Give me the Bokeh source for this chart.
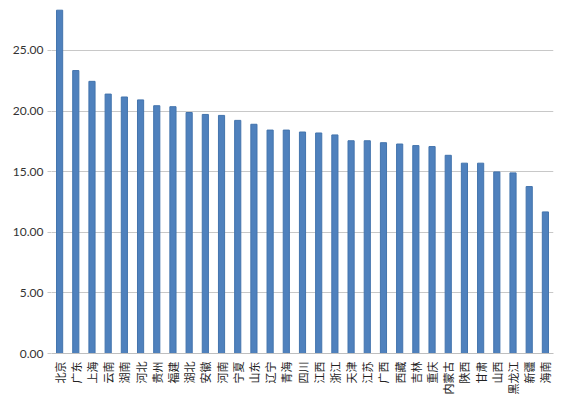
from bokeh.plotting import figure
from bokeh.models import Range1d, FixedTicker, NumeralTickFormatter, FactorRange
from bokeh.embed import file_html
from bokeh.resources import INLINE

provinces = ["北京", "广东", "上海", "云南", "湖南", "河北", "贵州", "福建", "湖北", "安徽",
             "河南", "宁夏", "山东", "辽宁", "青海", "四川", "江西", "浙江", "天津", "江苏",
             "广西", "西藏", "吉林", "重庆", "内蒙古", "陕西", "甘肃", "山西", "黑龙江", "新疆", "海南"]
values = [28.32, 23.34, 22.45, 21.40, 21.16, 20.92, 20.44, 20.36, 19.88, 19.72,
          19.64, 19.23, 18.91, 18.43, 18.43, 18.27, 18.19, 18.03, 17.55, 17.55,
          17.39, 17.28, 17.15, 17.07, 16.35, 15.70, 15.70, 14.98, 14.90, 13.77, 11.68]
y_ticks = [0, 5, 10, 15, 20, 25]

p = figure(x_range=FactorRange(*provinces), y_range=Range1d(0, 29.12),
           width=574, height=397, output_backend="svg", toolbar_location=None,
           min_border_left=51, min_border_right=21, min_border_top=0, min_border_bottom=0)

p.vbar(x=provinces, top=values, width=0.38, fill_color="#4f81bd", line_color="#4374ad", line_width=1)

p.outline_line_color = None
p.background_fill_color = "white"
p.border_fill_color = "white"

p.xgrid.grid_line_color = None
p.ygrid.ticker = FixedTicker(ticks=y_ticks)
p.ygrid.grid_line_color = "#c8c8c8"

p.yaxis.ticker = FixedTicker(ticks=y_ticks)
p.yaxis.formatter = NumeralTickFormatter(format="0.00")
p.yaxis.axis_line_color = None
p.yaxis.major_tick_in = 0
p.yaxis.major_tick_out = 4
p.yaxis.major_tick_line_color = "#c8c8c8"
p.yaxis.minor_tick_line_color = None
p.yaxis.major_label_text_font = "Lato"
p.yaxis.major_label_text_font_size = "12px"
p.yaxis.major_label_text_color = "#333333"
p.yaxis.major_label_standoff = 4

p.xaxis.axis_line_color = "#bfbfbf"
p.xaxis.major_tick_line_color = None
p.xaxis.minor_tick_line_color = None
p.xaxis.major_label_orientation = 3.14159265 / 2
p.xaxis.major_label_text_font = "Noto Sans CJK SC"
p.xaxis.major_label_text_font_size = "11px"
p.xaxis.major_label_text_color = "#222222"
p.xaxis.major_label_standoff = 2

open("out.html", "w").write(file_html(p, INLINE))
